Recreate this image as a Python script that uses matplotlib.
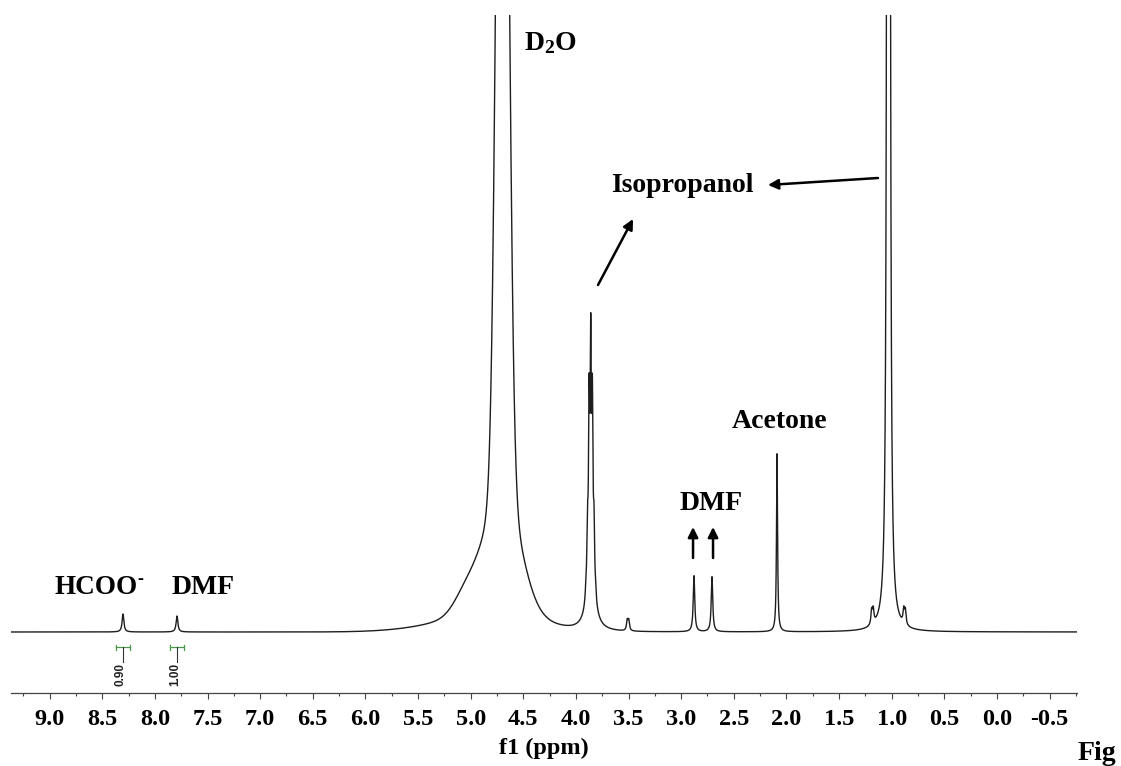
import matplotlib
matplotlib.use("Agg")
import matplotlib.pyplot as plt
import numpy as np
from matplotlib.ticker import MultipleLocator, FormatStrFormatter

plt.rcParams.update({
    "font.family": "Liberation Serif",
    "font.weight": "bold",
    "mathtext.fontset": "custom",
    "mathtext.rm": "Liberation Serif:bold",
    "mathtext.it": "Liberation Serif:bold",
    "mathtext.bf": "Liberation Serif:bold",
})

# sharp lines: shift (ppm), height (a.u.), half width (ppm)
line_ppm = [8.303, 7.790,
            3.9055, 3.890, 3.8745, 3.859, 3.8435, 3.828, 3.8125, 3.859,
            3.512, 3.498,
            2.878, 2.707, 2.089,
            1.0375, 1.0225,
            1.190, 1.175, 0.885, 0.870]
line_height = [18, 16,
               8, 60, 170, 222, 170, 60, 8, 40,
               10, 10,
               56, 55, 178,
               3100, 3100,
               14, 14, 14, 14]
line_hw = [0.010, 0.010,
           0.0065, 0.0065, 0.0065, 0.0065, 0.0065, 0.0065, 0.0065, 0.0475,
           0.008, 0.008,
           0.0085, 0.0085, 0.006,
           0.0055, 0.0055,
           0.008, 0.008, 0.008, 0.008]

# broad HDO (D2O) band: centre (ppm), height, sigma (ppm)
hdo_ppm = [4.697, 4.697, 4.697, 5.030, 5.000]
hdo_height = [1130, 120, 16, 22, 10]
hdo_sigma = [0.0523, 0.1615, 0.3325, 0.120, 0.450]

# integrals
int_ppm = [8.303, 7.790]
int_val = ["0.90", "1.00"]

ppm = np.linspace(9.4, -0.8, 40000)
spec = np.zeros_like(ppm)
for c, h, g in zip(line_ppm, line_height, line_hw):
    spec += h / (1 + ((ppm - c) / g) ** 2)
for c, h, s in zip(hdo_ppm, hdo_height, hdo_sigma):
    spec += h * np.exp(-0.5 * ((ppm - c) / s) ** 2)

fig = plt.figure(figsize=(11.21, 7.66), dpi=100)
ax = fig.add_axes([11 / 1121, 1 - 693 / 766, 1066 / 1121, 678 / 766])
ax.plot(ppm, spec, color="#1e1e1e", lw=1.0)
ax.set_xlim(9.367, -0.761)
ax.set_ylim(-61, 617)

for s in ["left", "right", "top"]:
    ax.spines[s].set_visible(False)
ax.spines["bottom"].set_color("#444444")
ax.spines["bottom"].set_linewidth(0.9)
ax.set_yticks([])
ax.xaxis.set_major_locator(MultipleLocator(0.5))
ax.xaxis.set_minor_locator(MultipleLocator(0.25))
ax.xaxis.set_major_formatter(FormatStrFormatter("%.1f"))
ax.tick_params(axis="x", which="major", direction="out", length=4, width=0.8,
               color="#444444", labelsize=17.5, pad=7.5)
ax.tick_params(axis="x", which="minor", direction="out", length=2.2, width=0.8,
               color="#444444")
for t in ax.get_xticklabels():
    t.set_fontweight("bold")
ax.set_xlabel("f1 (ppm)", fontsize=17.5, fontweight="bold", labelpad=5.5)

# integral marks
for p, v in zip(int_ppm, int_val):
    ax.plot([p - 0.065, p + 0.065], [-15, -15], color="#4a9a4a", lw=0.9)
    ax.plot([p - 0.065, p - 0.065], [-12.5, -17.5], color="#4a9a4a", lw=0.9)
    ax.plot([p + 0.065, p + 0.065], [-12.5, -17.5], color="#4a9a4a", lw=0.9)
    ax.plot([p, p], [-15, -30], color="#333333", lw=0.8)
    ax.text(p + 0.02, -31, v, rotation=90, ha="center", va="top", fontsize=8.5,
            family="Liberation Sans", weight="bold", color="#222222")

lab = dict(fontsize=20, weight="bold", color="black")
ax.text(8.949, 44, "HCOO", ha="left", va="center", fontsize=19.5,
        weight="bold", color="black")
ax.text(8.170, 52, "-", ha="left", va="center", fontsize=13, weight="bold")
ax.text(7.543, 44, "DMF", ha="center", va="center", **lab)
ax.text(4.246, 589, "D$_{2}$O", ha="center", va="center", **lab)
ax.text(2.987, 447, "Isopropanol", ha="center", va="center", **lab)
ax.text(2.061, 210, "Acetone", ha="center", va="center", **lab)
ax.text(2.716, 129, "DMF", ha="center", va="center", **lab)

arr = dict(arrowstyle="-|>", lw=1.8, color="black", mutation_scale=15,
           shrinkA=0, shrinkB=0)
ax.annotate("", xy=(2.175, 447), xytext=(1.130, 454), arrowprops=arr)
ax.annotate("", xy=(3.457, 413), xytext=(3.790, 347), arrowprops=arr)
ax.annotate("", xy=(2.887, 105), xytext=(2.887, 74), arrowprops=arr)
ax.annotate("", xy=(2.697, 105), xytext=(2.697, 74), arrowprops=arr)

fig.text(1078 / 1121, 6 / 766, "Fig", fontsize=20, weight="bold", ha="left",
         va="baseline")

fig.savefig("out.png", dpi=100, facecolor="white")
